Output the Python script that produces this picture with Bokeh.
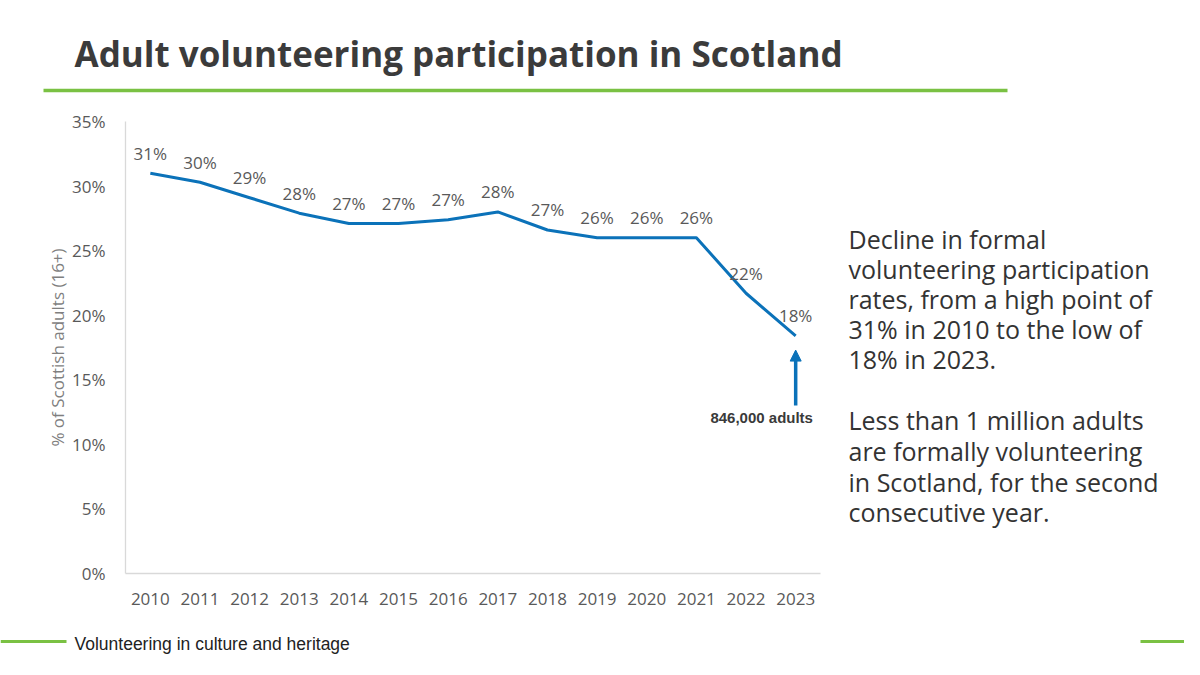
from bokeh.plotting import figure
from bokeh.layouts import column, row
from bokeh.models import (ColumnDataSource, FixedTicker, PrintfTickFormatter,
                          Arrow, NormalHead, Range1d)
from bokeh.core.properties import value
from bokeh.embed import file_html
from bokeh.resources import INLINE

# ---------------- data ----------------
years = ["2010", "2011", "2012", "2013", "2014", "2015", "2016",
         "2017", "2018", "2019", "2020", "2021", "2022", "2023"]
rates = [31.0, 30.3, 29.1, 27.9, 27.1, 27.1, 27.4, 28.0, 26.6, 26.0, 26.0, 26.0, 21.7, 18.4]
rate_labels = ["31%", "30%", "29%", "28%", "27%", "27%", "27%", "28%", "27%",
               "26%", "26%", "26%", "22%", "18%"]
y_ticks = [0, 5, 10, 15, 20, 25, 30, 35]

title_text = "Adult volunteering participation in Scotland"
y_title = "% of Scottish adults (16+)"
annotation_text = "846,000 adults"
side_lines = ["Decline in formal", "volunteering participation",
              "rates, from a high point of", "31% in 2010 to the low of",
              "18% in 2023.",
              "Less than 1 million adults", "are formally volunteering",
              "in Scotland, for the second", "consecutive year."]
footer_text = "Volunteering in culture and heritage"

# ---------------- styling ----------------
BLUE = "#0B72B9"
GREEN = "#7AC143"
GREY = "#595959"
DARK = "#333333"
FONT = "Open Sans"

TOTAL_W = 1184
TOP_H = 101
FRAME_TOP, FRAME_H, FRAME_BOTTOM = 20, 452, 52   # chart frame inside the chart row
CHART_W, CHART_H = 830, FRAME_TOP + FRAME_H + FRAME_BOTTOM
BOTTOM_H = 34
SIDE_W = TOTAL_W - CHART_W


def blank(w, h, x0=0, y0=0, top=0, bottom=0):
    """A figure with no axes; x/y ranges are page pixel coordinates, y growing downward."""
    f = figure(width=w, height=h,
               x_range=Range1d(x0, x0 + w),
               y_range=Range1d(y0 + h - bottom, y0 + top),
               output_backend="svg", toolbar_location=None, title=None,
               x_axis_type=None, y_axis_type=None,
               min_border=0, min_border_left=0, min_border_right=0,
               min_border_top=top, min_border_bottom=bottom)
    f.outline_line_color = None
    f.xgrid.visible = False
    f.ygrid.visible = False
    f.background_fill_color = "white"
    f.border_fill_color = "white"
    return f


# ---------------- top band: title + rule ----------------
top = blank(TOTAL_W, TOP_H)
top.text(x=[74], y=[52.5], text=[title_text], text_font=value(FONT),
         text_font_style="bold", text_font_size="35px", text_color="#3B3B3B",
         text_align="left", text_baseline="middle")
top.quad(left=[43], right=[1007], top=[88.2], bottom=[91.8],
         fill_color=GREEN, line_color=None)

# ---------------- chart ----------------
p = figure(x_range=years, y_range=(0, 35), width=CHART_W, height=CHART_H,
           output_backend="svg", toolbar_location=None,
           min_border_left=125, min_border_right=10,
           min_border_top=FRAME_TOP, min_border_bottom=FRAME_BOTTOM)
p.outline_line_color = None
p.background_fill_color = "white"
p.border_fill_color = "white"
p.xgrid.grid_line_color = None
p.ygrid.grid_line_color = None

for ax in (p.xaxis, p.yaxis):
    ax.axis_line_color = "#D9D9D9"
    ax.axis_line_width = 1.3
    ax.major_tick_line_color = None
    ax.minor_tick_line_color = None
    ax.major_tick_out = 0
    ax.major_tick_in = 0
    ax.minor_tick_out = 0
    ax.major_label_text_font = FONT
    ax.major_label_text_font_size = "17px"
    ax.major_label_text_color = GREY

p.yaxis.ticker = FixedTicker(ticks=y_ticks)
p.yaxis.formatter = PrintfTickFormatter(format="%d%%")
p.yaxis.major_label_standoff = 20
p.yaxis.axis_label = y_title
p.yaxis.axis_label_text_font = FONT
p.yaxis.axis_label_text_font_style = "normal"
p.yaxis.axis_label_text_font_size = "17px"
p.yaxis.axis_label_text_color = "#7F7F7F"
p.yaxis.axis_label_standoff = 0
p.xaxis.major_label_standoff = 19
p.x_range.range_padding = 0

src = ColumnDataSource(dict(year=years, rate=rates, label=rate_labels))
p.line("year", "rate", source=src, line_color=BLUE, line_width=3, line_join="round")
p.text("year", "rate", text="label", source=src, y_offset=-20,
       text_font=value(FONT), text_font_size="17px", text_color=GREY,
       text_align="center", text_baseline="middle")

last_x = len(years) - 0.5
p.add_layout(Arrow(x_start=last_x, y_start=13.0, x_end=last_x, y_end=17.3,
                   line_color=BLUE, line_width=3.5,
                   end=NormalHead(size=11, fill_color=BLUE, line_color=BLUE, line_width=1)))
p.text(x=[years[-1]], y=[12.1], text=[annotation_text], x_offset=-34,
       text_font=value("Liberation Sans"), text_font_style="bold",
       text_font_size="15px", text_color="#3A3A3A",
       text_align="center", text_baseline="middle")

# ---------------- side text ----------------
side = blank(SIDE_W, CHART_H, x0=CHART_W, y0=TOP_H, top=FRAME_TOP, bottom=FRAME_BOTTOM)
baselines = [248, 278, 308, 338, 368, 429, 460, 491, 521]
side.text(x=[848] * len(side_lines), y=[b - 9.5 for b in baselines],
          text=side_lines, text_font=value(FONT), text_font_size="25px",
          text_color=DARK, text_align="left", text_baseline="middle")

# ---------------- footer ----------------
y_foot = TOP_H + CHART_H
bottom = blank(TOTAL_W, BOTTOM_H, y0=y_foot)
bottom.text(x=[74], y=[643], text=[footer_text], text_font=value("Liberation Sans"),
            text_font_size="17.5px", text_color="#222222",
            text_align="left", text_baseline="middle")
bottom.quad(left=[0, 1140], right=[66, TOTAL_W], top=[639.5, 639.5], bottom=[642.5, 642.5],
            fill_color=GREEN, line_color=None)

layout = column(top, row(p, side, spacing=0), bottom, spacing=0)
open("out.html", "w").write(file_html(layout, INLINE))
